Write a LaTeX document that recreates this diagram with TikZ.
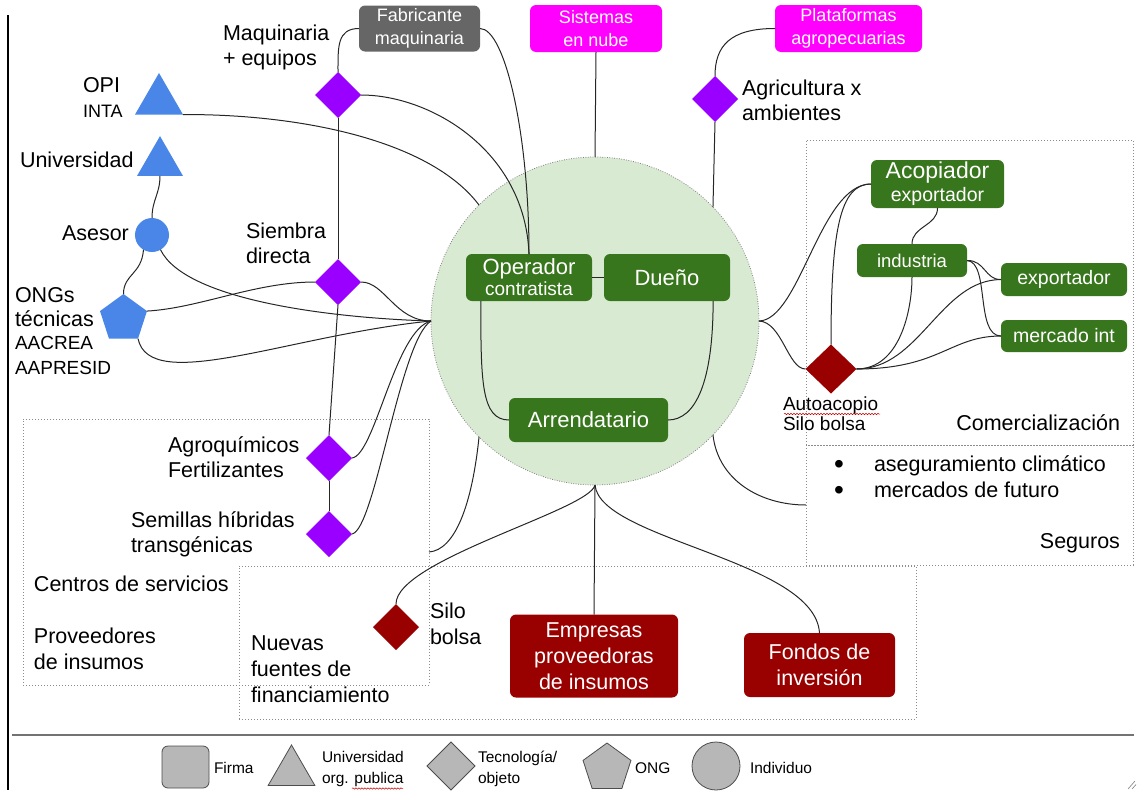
\documentclass[tikz,border=0pt]{standalone}
\usepackage{fontspec}
\setmainfont{Liberation Sans}
\usetikzlibrary{shapes.geometric,decorations.pathmorphing}

\definecolor{techpurple}{HTML}{9900FF}
\definecolor{orgblue}{HTML}{4A86E8}
\definecolor{firmgreen}{HTML}{38761D}
\definecolor{siloRed}{HTML}{990000}
\definecolor{cloudmag}{HTML}{FF00FF}
\definecolor{firmgray}{HTML}{666666}
\definecolor{corefill}{HTML}{D9EAD3}
\definecolor{legfill}{HTML}{B7B7B7}

\newcommand\szMain{\fontsize{21.5}{25}\selectfont}
\newcommand\szTag{\fontsize{18}{22.5}\selectfont}
\newcommand\szLeg{\fontsize{15.5}{21}\selectfont}

\tikzset{
  every node/.style={outer sep=0pt},
  firm/.style={rectangle, rounded corners=6pt, text=white, align=center, inner sep=0pt},
  tech/.style={diamond, fill=techpurple, minimum width=46pt, minimum height=46pt, inner sep=0pt},
  redtech/.style={diamond, fill=siloRed, inner sep=0pt},
  link/.style={draw=black!85, line width=1pt},
  zone/.style={draw=black!45, dash pattern=on 1pt off 2pt, line width=0.9pt, inner sep=0pt},
  % multi-line labels are placed by the baseline of their last line
  lbl/.style={inner sep=0pt, align=left, anchor=base west, font=\szMain},
  leglbl/.style={inner sep=0pt, align=left, anchor=base west, font=\szLeg},
  legshape/.style={fill=legfill, draw=black!70, line width=0.8pt, inner sep=0pt},
  spell/.style={draw=red!80!black, line width=0.5pt, decorate,
    decoration={snake, amplitude=0.7pt, segment length=3pt}}
}

\begin{document}
\begin{tikzpicture}[x=1pt,y=-1pt]
\useasboundingbox (0,0) rectangle (1138,790);

% frame line on the left
\draw[line width=1.5pt] (8,15) -- (8,790);

% dotted zones
\node[zone, minimum width=406pt, minimum height=266pt] (cen) at (226,552) {};
\node[zone, minimum width=677pt, minimum height=153pt] (fin) at (577.5,642.5) {};
\node[zone, minimum width=327pt, minimum height=305pt] (com) at (969.5,292.5) {};
\node[zone, minimum width=327pt, minimum height=120pt] (seg) at (969.5,505) {};

% production core
\node[circle, fill=corefill, draw=black!50, dash pattern=on 0.8pt off 1.6pt,
      line width=0.8pt, minimum size=328pt, inner sep=0pt] (core) at (595,321) {};

% firms
\node[firm, fill=firmgray, minimum width=121pt, minimum height=46pt, font=\szTag] (fab) at (419.5,28.5) {Fabricante\\maquinaria};
\node[firm, fill=cloudmag, minimum width=132pt, minimum height=47pt, font=\szTag] (sis) at (596,28.5) {Sistemas\\en nube};
\node[firm, fill=cloudmag, minimum width=147pt, minimum height=47pt, font=\szTag] (plat) at (848.5,28.5) {Plataformas\\agropecuarias};

\node[firm, fill=firmgreen, minimum width=126pt, minimum height=47pt, font=\fontsize{19}{21}\selectfont] (op) at (529,277.5) {{\fontsize{22}{21}\selectfont Operador}\\contratista};
\node[firm, fill=firmgreen, minimum width=126pt, minimum height=47pt, font=\fontsize{22}{25}\selectfont] (due) at (667,277.5) {Dueño};
\node[firm, fill=firmgreen, minimum width=159pt, minimum height=44pt, font=\fontsize{22}{25}\selectfont] (arr) at (588.5,420) {Arrendatario};

\node[firm, fill=firmgreen, minimum width=133pt, minimum height=48pt, font=\fontsize{19.5}{23}\selectfont] (acop) at (937.5,184) {{\fontsize{23}{23}\selectfont Acopiador}\\exportador};
\node[firm, fill=firmgreen, minimum width=110pt, minimum height=33pt, font=\fontsize{18.5}{22}\selectfont] (ind) at (912,260.5) {industria};
\node[firm, fill=firmgreen, minimum width=126pt, minimum height=33pt, font=\fontsize{19.5}{22}\selectfont] (exp) at (1064,279.5) {exportador};
\node[firm, fill=firmgreen, minimum width=126pt, minimum height=32pt, font=\fontsize{19.5}{22}\selectfont] (merc) at (1064,336) {mercado int};

\node[firm, fill=siloRed, minimum width=168pt, minimum height=83pt, font=\fontsize{21.5}{26}\selectfont] (emp) at (594,656) {Empresas\\proveedoras\\de insumos};
\node[firm, fill=siloRed, minimum width=151pt, minimum height=64pt, font=\fontsize{21.5}{26}\selectfont] (fondos) at (819.5,665) {Fondos de\\inversión};

% technologies
\node[tech] (maq) at (338,95) {};
\node[tech] (siem) at (338,282) {};
\node[tech] (agro) at (329,458) {};
\node[tech] (semi) at (329,534) {};
\node[tech] (agri) at (715,99) {};
\node[redtech, minimum width=51pt, minimum height=49pt] (auto) at (831,369) {};
\node[redtech, minimum width=46pt, minimum height=46pt] (silo) at (396,627) {};

% organisations and individuals
\node[regular polygon, regular polygon sides=3, fill=orgblue, minimum size=55.4pt, inner sep=0pt] (opi) at (159,100.7) {};
\node[regular polygon, regular polygon sides=3, fill=orgblue, minimum size=53pt, inner sep=0pt] (uni) at (160,162.6) {};
\node[circle, fill=orgblue, minimum size=34pt, inner sep=0pt] (ases) at (152,235) {};
\node[regular polygon, regular polygon sides=5, fill=orgblue, minimum size=49.4pt, inner sep=0pt] (ong) at (123.5,318.7) {};

% labels
\node[lbl] (maqlbl) at (223,65.5) {Maquinaria\\+ equipos};
\node[lbl] (opilbl) at (83,92) {OPI};
\node[lbl, font=\fontsize{18}{22}\selectfont] (intalbl) at (83,117) {INTA};
\node[lbl] (unilbl) at (20,167) {Universidad};
\node[lbl] (aseslbl) at (62,240) {Asesor};
\node[lbl, font=\fontsize{21.5}{24}\selectfont] (onglbl) at (15,326) {ONGs\\técnicas};
\node[lbl, font=\fontsize{19}{24.5}\selectfont] (aalbl) at (15,374) {AACREA\\AAPRESID};
\node[lbl] (siemlbl) at (246,263) {Siembra\\directa};
\node[lbl] (agrolbl) at (168,477.5) {Agroquímicos\\Fertilizantes};
\node[lbl] (semilbl) at (131,552) {Semillas híbridas\\transgénicas};
\node[lbl] (centlbl) at (34,591) {Centros de servicios};
\node[lbl, font=\fontsize{21.5}{26}\selectfont] (provlbl) at (34,669) {Proveedores\\de insumos};
\node[lbl, font=\fontsize{21.5}{26}\selectfont] (finlbl) at (251,702) {Nuevas\\fuentes de\\financiamiento};
\node[lbl, font=\fontsize{21.5}{26}\selectfont] (silolbl) at (430,644) {Silo\\bolsa};
\node[lbl] (agrilbl) at (742,120) {Agricultura x\\ambientes};
\node[lbl, font=\fontsize{19}{20.5}\selectfont] (autolbl) at (783,430.5) {Autoacopio\\Silo bolsa};
\node[lbl, anchor=base east] (comlbl) at (1120,430) {Comercialización};
\node[lbl, anchor=base, font=\fontsize{28}{28}\selectfont] (bul1) at (839,473) {•};
\node[lbl, anchor=base, font=\fontsize{28}{28}\selectfont] (bul2) at (839,499) {•};
\node[lbl] (seg1) at (874,471) {aseguramiento climático};
\node[lbl] (seg2) at (874,497) {mercados de futuro};
\node[lbl, anchor=base east] (seglbl) at (1120,548) {Seguros};

% spelling mark under a word
\draw[spell] (784,414) -- (880,414);

% connectors
\draw[link] (fab.west) .. controls +(-22,0) and +(0,-25) .. (maq.north);
\draw[link] (fab.east) .. controls +(25,0) and +(0,-120) .. (op.north);
\draw[link] (sis.south) -- (core.north);
\draw[link] (plat.west) .. controls +(-45,0) and +(0,-30) .. (agri.north);
\draw[link] (agri.south) -- (core.44);
\draw[link] (maq.east) .. controls (430,95) and (525,150) .. (op.north);
\draw[link] (opi.corner 3) .. controls (300,114) and (430,140) .. (core.135);
\draw[link] (uni.south) .. controls +(0,18) and +(0,-18) .. (ases.north);
\draw[link] (ases.240) .. controls +(-2,25) and +(0,-20) .. (ong.corner 1);
\draw[link] (ases.300) .. controls (185,300) and (330,318) .. (core.west);
\draw[link] (ong.corner 5) .. controls (200,308) and (255,282) .. (siem.west);
\draw[link] (ong.corner 4) .. controls (150,395) and (290,335) .. (core.west);
\draw[link] (siem.east) .. controls (385,282) and (395,321) .. (core.west);
\draw[link] (agro.east) .. controls (375,455) and (395,330) .. (core.west);
\draw[link] (semi.east) .. controls (375,530) and (400,340) .. (core.west);
\draw[link] (maq.south) -- (siem.north);
\draw[link] (siem.south) -- (agro.north);
\draw[link] (agro.south) -- (semi.north);
\draw[link] (core.225) .. controls (472,505) and (455,550) .. (cen.east);
\draw[link] (silo.north) .. controls (396,560) and (590,510) .. (core.south);
\draw[link] (core.south) -- (emp.north);
\draw[link] (core.south) .. controls (600,540) and (815,560) .. (fondos.north);
\draw[link] (core.-44) .. controls (718,480) and (760,505) .. (seg.west);
\draw[link] (core.east) .. controls (800,320) and (820,184) .. (acop.west);
\draw[link] (core.east) .. controls (782,322) and (788,369) .. (auto.west);
\draw[link] (auto.north) .. controls (831,230) and (840,184) .. (acop.west);
\draw[link] (auto.east) .. controls (900,369) and (912,310) .. (ind.south);
\draw[link] (auto.east) .. controls (920,369) and (940,280) .. (exp.west);
\draw[link] (auto.east) .. controls (940,369) and (950,336) .. (merc.west);
\draw[link] (acop.south) .. controls +(0,18) and +(0,-18) .. (ind.north);
\draw[link] (ind.east) .. controls (985,260) and (985,280) .. (exp.west);
\draw[link] (ind.east) .. controls (990,262) and (975,336) .. (merc.west);
\draw[link] (op.east) -- (due.west);
\draw[link] (op.206) .. controls +(0,80) and +(-28,0) .. (arr.west);
\draw[link] (due.333) .. controls +(0,80) and +(28,0) .. (arr.east);

% legend
\draw[line width=2pt, black!55] (12,735) -- (1134,735);
\node[legshape, rectangle, rounded corners=6pt, minimum width=47pt, minimum height=42pt] (lgfirm) at (185.5,767) {};
\node[leglbl] (lgfirmlbl) at (214,773) {Firma};
\node[legshape, regular polygon, regular polygon sides=3, minimum size=54pt] (lguni) at (291.5,772) {};
\node[leglbl] (lgunilbl) at (322,783) {Universidad\\org. publica};
\draw[spell] (352,788.5) -- (403,788.5);
\node[legshape, diamond, minimum width=48pt, minimum height=48pt] (lgtec) at (451,766) {};
\node[leglbl] (lgteclbl) at (478,783) {Tecnología/\\objeto};
\node[legshape, regular polygon, regular polygon sides=5, minimum size=50.4pt] (lgong) at (607,768.2) {};
\node[leglbl] (lgonglbl) at (635,773) {ONG};
\node[legshape, circle, minimum size=48pt] (lgind) at (716,766) {};
\node[leglbl] (lgindlbl) at (750,773) {Individuo};

% resize grip in the corner
\draw[black!50, line width=0.6pt] (1128,789) -- (1135,781) (1132,789) -- (1136,784.5);
\end{tikzpicture}
\end{document}
